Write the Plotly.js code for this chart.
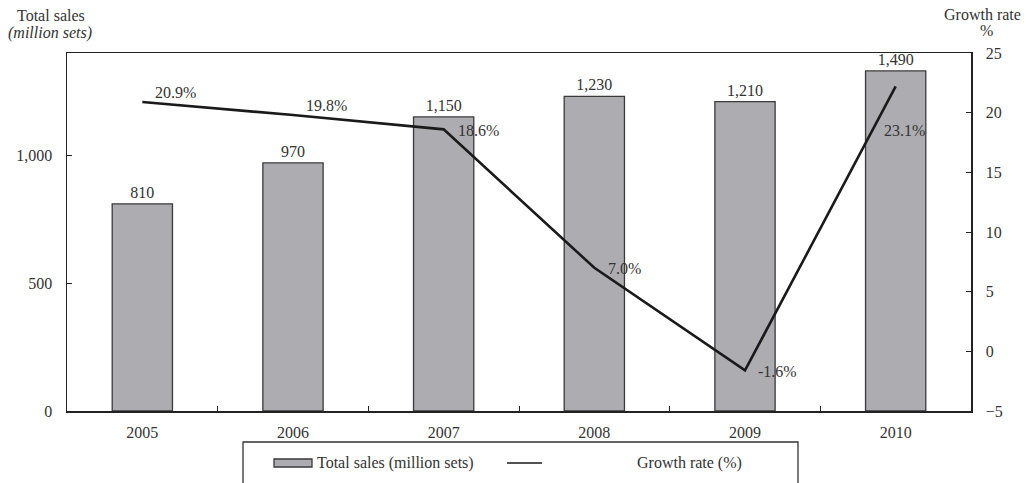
<!DOCTYPE html>
<html>
<head>
<meta charset="utf-8">
<script src="https://cdn.plot.ly/plotly-3.0.1.min.js"></script>
<style>html,body{margin:0;padding:0;background:#fff;}#chart{width:1027px;height:483px;}</style>
</head>
<body>
<div id="chart"></div>
<script>
// ---- data ----
const years = ['2005', '2006', '2007', '2008', '2009', '2010'];
const totalSales = [810, 970, 1150, 1230, 1210, 1330];        // million sets (bar heights as drawn)
const salesLabels = ['810', '970', '1,150', '1,230', '1,210', '1,490'];
const growthRate = [20.9, 19.8, 18.6, 7.0, -1.6, 22.2];       // % (as drawn)
const growthLabels = ['20.9%', '19.8%', '18.6%', '7.0%', '-1.6%', '23.1%'];
const leftTicks = [0, 500, 1000];
const rightTicks = [-5, 0, 5, 10, 15, 20, 25];

// ---- layout helpers ----
const W = 1027, H = 483;
const M = {l: 67, r: 56, t: 53, b: 72};
const PW = W - M.l - M.r, PH = H - M.t - M.b;
const px = x => (x - M.l) / PW;
const py = y => (H - M.b - y) / PH;

const FONT = 'Liberation Serif, Times New Roman, serif';
const TXT = '#333333';

// label placement per point (style only)
const labShift = [[11, 9], [11, 10], [12, -1], [12, -1], [11, -1], [-14, -44]];

const bars = {
  type: 'bar', x: years, y: totalSales, name: 'Total sales (million sets)',
  marker: {color: '#adadb1', line: {color: '#3a3a3a', width: 1.3}},
  text: salesLabels, texttemplate: '%{text}', textposition: 'outside',
  textfont: {family: FONT, size: 16, color: TXT}, cliponaxis: false,
  hoverinfo: 'skip'
};
const line = {
  type: 'scatter', mode: 'lines', x: years, y: growthRate, yaxis: 'y2',
  name: 'Growth rate (%)', line: {color: '#1a1a1a', width: 2.6}, hoverinfo: 'skip'
};

const annotations = growthLabels.map((t, i) => ({
  x: years.indexOf(years[i]), y: growthRate[i], xref: 'x', yref: 'y2', text: t, showarrow: false,
  xanchor: 'left', yanchor: 'middle', xshift: labShift[i][0], yshift: labShift[i][1],
  font: {family: FONT, size: 16, color: TXT}
}));
annotations.push(
  {xref: 'paper', yref: 'paper', x: px(51), y: py(16), text: 'Total sales', showarrow: false,
   xanchor: 'center', yanchor: 'middle', font: {family: FONT, size: 16, color: TXT}},
  {xref: 'paper', yref: 'paper', x: px(50), y: py(33), text: '<i>(million sets)</i>', showarrow: false,
   xanchor: 'center', yanchor: 'middle', font: {family: FONT, size: 16, color: TXT}},
  {xref: 'paper', yref: 'paper', x: px(983), y: py(15), text: 'Growth rate', showarrow: false,
   xanchor: 'center', yanchor: 'middle', font: {family: FONT, size: 16, color: TXT}},
  {xref: 'paper', yref: 'paper', x: px(986), y: py(31), text: '%', showarrow: false,
   xanchor: 'center', yanchor: 'middle', font: {family: FONT, size: 16, color: TXT}},
  {xref: 'paper', yref: 'paper', x: px(315), y: py(463), text: bars.name, showarrow: false,
   xanchor: 'left', yanchor: 'middle', font: {family: FONT, size: 16, color: TXT}},
  {xref: 'paper', yref: 'paper', x: px(635), y: py(463), text: line.name, showarrow: false,
   xanchor: 'left', yanchor: 'middle', font: {family: FONT, size: 16, color: TXT}}
);

const shapes = [
  {type: 'rect', xref: 'paper', yref: 'paper', x0: px(243), x1: px(798), y0: py(442), y1: py(520),
   line: {color: '#333', width: 1.3}, fillcolor: 'rgba(0,0,0,0)'},
  {type: 'rect', xref: 'paper', yref: 'paper', x0: px(274), x1: px(312), y0: py(459), y1: py(467),
   line: {color: '#3a3a3a', width: 1.3}, fillcolor: '#adadb1'},
  {type: 'line', xref: 'paper', yref: 'paper', x0: px(507), x1: px(542), y0: py(463), y1: py(463),
   line: {color: '#1a1a1a', width: 1.6}}
];

const layout = {
  width: W, height: H, margin: M, showlegend: false,
  paper_bgcolor: '#fff', plot_bgcolor: '#fff',
  font: {family: FONT, size: 16, color: TXT},
  bargap: 0.6,
  xaxis: {type: 'category', range: [-0.5, years.length - 0.5], autorange: false,
          showline: true, mirror: true, linecolor: '#222', linewidth: 1.5,
          ticks: 'inside', tickson: 'boundaries', ticklen: 5, tickcolor: '#222',
          showgrid: false, ticklabelstandoff: 6, tickangle: 0,
          tickfont: {family: FONT, size: 16, color: TXT}},
  yaxis: {range: [0, 1400], autorange: false, tickvals: leftTicks, tickformat: ',', showline: true, mirror: true,
          linecolor: '#222', linewidth: 1.5, ticks: 'inside', ticklen: 5, tickcolor: '#222',
          showgrid: false, zeroline: false, ticklabelstandoff: 10,
          tickfont: {family: FONT, size: 16, color: TXT}},
  yaxis2: {range: [-5, 25], autorange: false, tickvals: rightTicks, overlaying: 'y', side: 'right',
           showline: true, linecolor: '#222', linewidth: 1.5, ticks: 'inside', ticklen: 5,
           tickcolor: '#222', showgrid: false, zeroline: false, ticklabelstandoff: 10,
           tickfont: {family: FONT, size: 16, color: TXT}},
  annotations: annotations, shapes: shapes
};

Plotly.newPlot('chart', [bars, line], layout, {displayModeBar: false, staticPlot: true});
</script>
</body>
</html>
